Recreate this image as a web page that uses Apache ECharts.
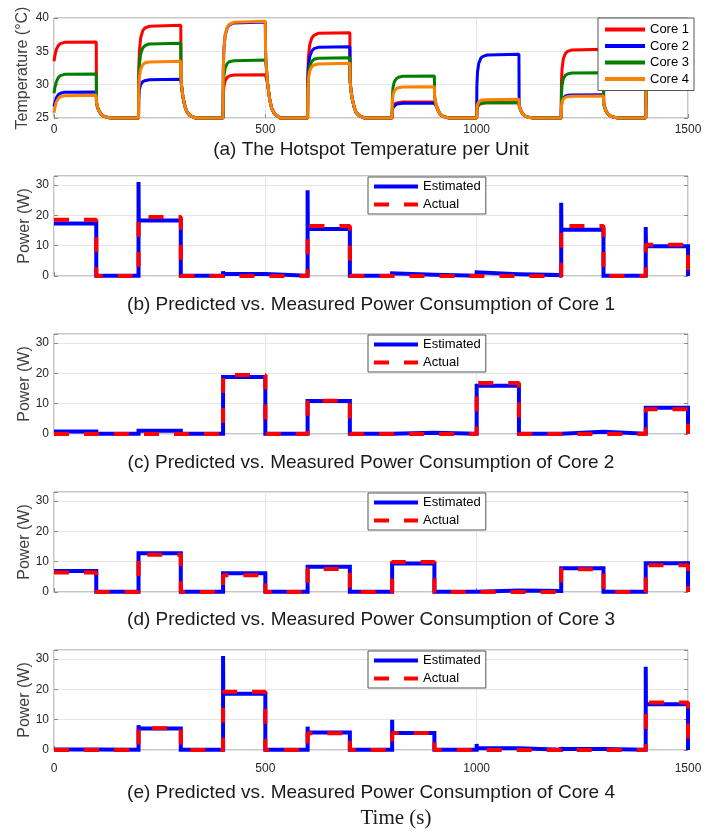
<!DOCTYPE html>
<html>
<head>
<meta charset="utf-8">
<title>Hotspot temperature and power per core</title>
<script src="https://cdn.jsdelivr.net/npm/echarts@6/dist/echarts.min.js"></script>
<style>
html, body { margin: 0; padding: 0; background: #fff; }
#main { width: 728px; height: 834px; }
</style>
</head>
<body>
<div id="main"></div>
<script>
// (a) hotspot temperature, sample times shared by all four cores
var tempTime = [0, 2, 5, 10, 15, 25,
    100, 100.5, 102, 105, 110, 115, 122, 135,
    200, 200.5, 202, 205, 210, 215, 225,
    300, 300.5, 302, 305, 310, 315, 322, 335,
    400, 400.5, 402, 405, 410, 415, 425,
    500, 500.5, 502, 505, 510, 515, 522, 535,
    600, 600.5, 602, 605, 610, 615, 625,
    700, 700.5, 702, 705, 710, 715, 722, 735,
    800, 800.5, 802, 805, 810, 815, 825,
    900, 900.5, 902, 905, 910, 915, 922, 935,
    1000, 1000.5, 1002, 1005, 1010, 1015, 1025,
    1100, 1100.5, 1102, 1105, 1110, 1115, 1122, 1135,
    1200, 1200.5, 1202, 1205, 1210, 1215, 1225,
    1300, 1300.5, 1302, 1305, 1310, 1315, 1322, 1335,
    1400, 1401];
var core1Temp = [33.5, 34.3, 35.2, 35.85, 36.15, 36.35,
    36.4, 27.4, 26.85, 26.25, 25.7, 25.35, 25.15, 25.0,
    25, 32.0, 35.0, 37.0, 38.1, 38.5, 38.75,
    38.9, 30.95, 29.7, 28.15, 26.7, 25.85, 25.35, 25.0,
    25, 28.3, 29.7, 30.6, 31.1, 31.3, 31.45,
    31.5, 31.5, 31.5, 30.35, 27.9, 26.45, 25.6, 25.0,
    25, 31.4, 34.2, 36.0, 37.0, 37.4, 37.7,
    37.8, 30.75, 29.5, 28.05, 26.65, 25.8, 25.35, 25.0,
    25, 26.2, 26.7, 27.05, 27.25, 27.3, 27.4,
    27.4, 27.4, 27.4, 26.75, 25.95, 25.45, 25.2, 25.0,
    25, 26.15, 26.65, 27.0, 27.15, 27.25, 27.3,
    27.3, 26.95, 26.55, 26.05, 25.55, 25.3, 25.1, 25.0,
    25, 30.15, 32.4, 33.85, 34.7, 35.0, 35.2,
    35.3, 27.3, 26.8, 26.2, 25.65, 25.35, 25.15, 25.0,
    25, 33];
var core2Temp = [26.7, 27.3, 27.95, 28.5, 28.7, 28.85,
    28.9, 27.4, 26.85, 26.25, 25.7, 25.35, 25.15, 25.0,
    25, 27.9, 29.2, 30.0, 30.45, 30.6, 30.75,
    30.8, 30.8, 29.7, 28.15, 26.7, 25.85, 25.35, 25.0,
    25, 32.2, 35.4, 37.4, 38.55, 38.95, 39.25,
    39.4, 35.15, 33.0, 30.35, 27.9, 26.45, 25.6, 25.0,
    25, 30.35, 32.7, 34.2, 35.05, 35.4, 35.6,
    35.7, 30.75, 29.5, 28.05, 26.65, 25.8, 25.35, 25.0,
    25, 26.1, 26.6, 26.9, 27.05, 27.15, 27.2,
    27.2, 27.2, 27.2, 26.75, 25.95, 25.45, 25.2, 25.0,
    25, 29.8, 31.9, 33.2, 34.0, 34.25, 34.45,
    34.55, 26.95, 26.55, 26.05, 25.55, 25.3, 25.1, 25.0,
    25, 26.75, 27.5, 28.0, 28.3, 28.4, 28.45,
    28.5, 27.3, 26.8, 26.2, 25.65, 25.35, 25.15, 25.0,
    25, 29];
var core3Temp = [28.7, 29.5, 30.35, 31.05, 31.35, 31.55,
    31.6, 27.4, 26.85, 26.25, 25.7, 25.35, 25.15, 25.0,
    25, 30.6, 33.05, 34.6, 35.5, 35.85, 36.1,
    36.2, 30.95, 29.7, 28.15, 26.7, 25.85, 25.35, 25.0,
    25, 29.35, 31.25, 32.5, 33.2, 33.45, 33.6,
    33.7, 33.7, 33.0, 30.35, 27.9, 26.45, 25.6, 25.0,
    25, 29.5, 31.5, 32.8, 33.5, 33.8, 33.95,
    34.05, 30.75, 29.5, 28.05, 26.65, 25.8, 25.35, 25.0,
    25, 28.15, 29.55, 30.4, 30.9, 31.1, 31.25,
    31.3, 28.3, 27.6, 26.75, 25.95, 25.45, 25.2, 25.0,
    25, 26.15, 26.65, 27.0, 27.15, 27.25, 27.3,
    27.3, 26.95, 26.55, 26.05, 25.55, 25.3, 25.1, 25.0,
    25, 28.4, 29.9, 30.85, 31.4, 31.6, 31.75,
    31.8, 27.3, 26.8, 26.2, 25.65, 25.35, 25.15, 25.0,
    25, 31];
var core4Temp = [25.8, 26.5, 27.3, 27.9, 28.2, 28.35,
    28.4, 27.4, 26.85, 26.25, 25.7, 25.35, 25.15, 25.0,
    25, 29.25, 31.1, 32.3, 33.0, 33.25, 33.4,
    33.5, 30.95, 29.7, 28.15, 26.7, 25.85, 25.35, 25.0,
    25, 32.25, 35.45, 37.45, 38.65, 39.05, 39.35,
    39.5, 35.15, 33.0, 30.35, 27.9, 26.45, 25.6, 25.0,
    25, 29.1, 30.9, 32.05, 32.7, 32.95, 33.1,
    33.2, 30.75, 29.5, 28.05, 26.65, 25.8, 25.35, 25.0,
    25, 27.35, 28.4, 29.05, 29.4, 29.55, 29.65,
    29.7, 28.3, 27.6, 26.75, 25.95, 25.45, 25.2, 25.0,
    25, 26.4, 27.0, 27.4, 27.65, 27.7, 27.75,
    27.8, 26.95, 26.55, 26.05, 25.55, 25.3, 25.1, 25.0,
    25, 26.65, 27.4, 27.85, 28.1, 28.2, 28.25,
    28.3, 27.3, 26.8, 26.2, 25.65, 25.35, 25.15, 25.0,
    25, 30];

// (b)-(e) power, one level per 100 s segment (spike = estimator overshoot at segment start)
var segStart = [0, 100, 200, 300, 400, 500, 600, 700, 800, 900, 1000, 1100, 1200, 1300, 1400];
var segEnd = 1500;
var core1Est = [17.3, 0.1, 18.3, 0.1, 0.7, 0.1, 15.5, 0.1, 0.4, 0.1, 0.6, 0.3, 15.3, 0.1, 9.8];
var core1Spike = [null, null, 31, null, 1.6, null, 28.3, null, 0.9, null, 1.2, null, 24.2, null, 16.2];
var core1Act = [18.6, 0, 19.5, 0, 0, 0, 16.5, 0, 0, 0, 0, 0, 16.5, 0, 10.3];
var core2Est = [0.8, 0.1, 1.1, 0.1, 18.8, 0.1, 10.9, 0.1, 0.45, 0.1, 15.9, 0.1, 0.75, 0.1, 8.7];
var core2Spike = null;
var core2Act = [0, 0, 0, 0, 19.5, 0, 11.0, 0, 0, 0, 16.8, 0, 0, 0, 8.2];
var core3Est = [6.9, 0.1, 12.8, 0.1, 6.2, 0.1, 8.3, 0.1, 9.4, 0.1, 0.5, 0.3, 7.8, 0.1, 9.5];
var core3Spike = null;
var core3Act = [6.4, 0, 12.3, 0, 5.5, 0, 7.6, 0, 9.9, 0, 0, 0, 7.5, 0, 8.8];
var core4Est = [0.2, 0.1, 7.1, 0.1, 18.6, 0.1, 5.8, 0.1, 5.6, 0.1, 0.55, 0.1, 0.3, 0.1, 15.1];
var core4Spike = [null, null, 8.2, null, 31, null, 7.7, null, 10, null, 2.0, null, 1.0, null, 27.5];
var core4Act = [0, 0, 7.2, 0, 19.2, 0, 5.5, 0, 5.6, 0, 0, 0, 0, 0, 15.7];

var timeTicks = [0, 500, 1000, 1500];
var tempTicks = [25, 30, 35, 40];
var powerTicks = [0, 10, 20, 30];
var powerMax = 33;

var coreNames = ['Core 1', 'Core 2', 'Core 3', 'Core 4'];
var titles = [
    '(a) The Hotspot Temperature per Unit',
    '(b) Predicted vs. Measured Power Consumption of Core 1',
    '(c) Predicted vs. Measured Power Consumption of Core 2',
    '(d) Predicted vs. Measured Power Consumption of Core 3',
    '(e) Predicted vs. Measured Power Consumption of Core 4'
];

var FONT = "'Liberation Sans', Arial, sans-serif";
var gridTop = [18, 176, 334, 492, 650];
var titleY = [150, 305, 463, 620, 793];
var coreColors = ['#ff0000', '#0000ff', '#008000', '#ff8000'];

function zip(xs, ys) {
    var out = [];
    for (var i = 0; i < xs.length; i++) out.push([xs[i], ys[i]]);
    return out;
}

function stepTrace(levels, spikes) {
    var pts = [];
    for (var i = 0; i < segStart.length; i++) {
        var t0 = segStart[i];
        var t1 = i + 1 < segStart.length ? segStart[i + 1] : segEnd;
        if (spikes && spikes[i] != null) {
            pts.push([t0, spikes[i]]);
            pts.push([t0 + 0.5, spikes[i]]);
            pts.push([t0 + 0.5, levels[i]]);
        } else {
            pts.push([t0, levels[i]]);
        }
        pts.push([t1, levels[i]]);
    }
    pts.push([segEnd, 0]);
    return pts;
}

var myChart = echarts.init(document.getElementById('main'));

var grids = [], xAxes = [], yAxes = [], series = [], legends = [], texts = [];

for (var g = 0; g < 5; g++) {
    grids.push({left: 54, right: 40, top: gridTop[g], height: 100,
        show: true, borderColor: '#8c8c8c', borderWidth: 1, backgroundColor: '#fff'});
    xAxes.push({
        type: 'value', gridIndex: g,
        min: timeTicks[0], max: timeTicks[timeTicks.length - 1], interval: timeTicks[1] - timeTicks[0],
        axisLine: {show: false},
        axisTick: {show: true, inside: true, length: 4, lineStyle: {color: '#8c8c8c'}},
        axisLabel: {show: g === 0 || g === 4, margin: g === 0 ? 6 : 13,
            color: '#262626', fontSize: 12, fontFamily: FONT,
            formatter: function (v) { return String(v); }},
        splitLine: {show: true, lineStyle: {color: '#e6e6e6', width: 1}}
    });
    var ticks = g === 0 ? tempTicks : powerTicks;
    var yMax = g === 0 ? ticks[ticks.length - 1] : powerMax;
    yAxes.push({
        type: 'value', gridIndex: g, position: 'left',
        min: ticks[0], max: yMax, interval: ticks[1] - ticks[0],
        name: g === 0 ? 'Temperature (°C)' : 'Power (W)',
        nameLocation: 'middle', nameGap: g === 0 ? 23 : 21, nameMoveOverlap: false,
        nameTextStyle: {fontSize: 16, color: '#404040', fontFamily: FONT},
        axisLine: {show: false},
        axisTick: {show: true, inside: true, length: 4, lineStyle: {color: '#8c8c8c'}},
        axisLabel: {margin: 5, color: '#262626', fontSize: 12, fontFamily: FONT,
            formatter: function (v) { return v % 5 === 0 && v !== powerMax ? String(v) : ''; }},
        splitLine: {show: true, lineStyle: {color: '#e6e6e6', width: 1}}
    });
    yAxes.push({
        type: 'value', gridIndex: g, position: 'right',
        min: ticks[0], max: yMax, interval: ticks[1] - ticks[0],
        axisLine: {show: false},
        axisTick: {show: true, inside: true, length: 4, lineStyle: {color: '#8c8c8c'}},
        axisLabel: {show: false},
        splitLine: {show: false}
    });
    texts.push({
        type: 'text', x: 371, y: titleY[g], z: 10,
        style: {text: titles[g], font: '19px ' + FONT, fill: '#1a1a1a',
            align: 'center', verticalAlign: 'middle', textAlign: 'center', textVerticalAlign: 'middle'}
    });
}

texts.push({
    type: 'text', x: 396, y: 818, z: 10,
    style: {text: 'Time (s)', font: "21px 'Liberation Serif', 'DejaVu Serif', serif", fill: '#1a1a1a',
        align: 'center', verticalAlign: 'middle', textAlign: 'center', textVerticalAlign: 'middle'}
});

var temps = [core1Temp, core2Temp, core3Temp, core4Temp];
for (var c = 0; c < 4; c++) {
    series.push({
        type: 'line', name: coreNames[c], xAxisIndex: 0, yAxisIndex: 0,
        data: zip(tempTime, temps[c]),
        symbol: 'none', clip: false,
        lineStyle: {width: 3, color: coreColors[c]},
        itemStyle: {color: coreColors[c]}
    });
}

var est = [core1Est, core2Est, core3Est, core4Est];
var spk = [core1Spike, core2Spike, core3Spike, core4Spike];
var act = [core1Act, core2Act, core3Act, core4Act];
for (var k = 0; k < 4; k++) {
    series.push({
        type: 'line', name: 'Estimated', xAxisIndex: k + 1, yAxisIndex: 2 * (k + 1),
        data: stepTrace(est[k], spk[k]),
        symbol: 'none', clip: false,
        lineStyle: {width: 4, color: '#0000ff', join: 'miter'},
        itemStyle: {color: '#0000ff'}
    });
    series.push({
        type: 'line', name: 'Actual', xAxisIndex: k + 1, yAxisIndex: 2 * (k + 1),
        data: stepTrace(act[k], null),
        symbol: 'none', clip: false,
        lineStyle: {width: 4, color: '#ff0000', type: [15, 15]},
        itemStyle: {color: '#ff0000'}
    });
    legends.push({
        data: ['Estimated', 'Actual'], orient: 'vertical',
        left: 368, top: gridTop[k + 1] + 1,
        itemWidth: 44, itemHeight: 14, itemGap: 5, padding: [3, 5, 3, 4],
        backgroundColor: '#fff', borderColor: '#555', borderWidth: 1,
        selectedMode: false, itemStyle: {opacity: 0}, lineStyle: {width: 4},
        textStyle: {fontSize: 13, color: '#000', fontFamily: FONT}
    });
}

legends.unshift({
    data: coreNames, orient: 'vertical', left: 598, top: 18,
    itemWidth: 40, itemHeight: 14, itemGap: 3.5, padding: [5, 5, 5, 5],
    backgroundColor: '#fff', borderColor: '#555', borderWidth: 1,
    selectedMode: false, itemStyle: {opacity: 0}, lineStyle: {width: 4},
    textStyle: {fontSize: 13, color: '#000', fontFamily: FONT}
});

var option = {
    animation: false,
    backgroundColor: '#fff',
    grid: grids,
    xAxis: xAxes,
    yAxis: yAxes,
    legend: legends,
    series: series,
    graphic: {elements: texts}
};
myChart.setOption(option);
</script>
</body>
</html>
